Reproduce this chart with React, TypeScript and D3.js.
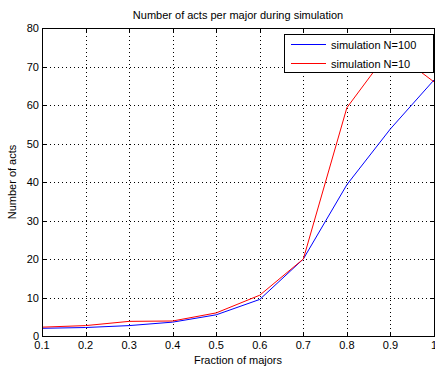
import React from "react";
import * as d3 from "d3";

const fractions = [0.1, 0.2, 0.3, 0.4, 0.5, 0.6, 0.7, 0.8, 0.9, 1.0];
const seriesN100 = [2.0, 2.2, 2.7, 3.6, 5.5, 9.5, 20.0, 39.3, 53.8, 66.5];
const seriesN10 = [2.3, 2.7, 3.8, 3.9, 6.0, 10.6, 20.0, 59.3, 74.5, 66.0];
const xTicks = [0.1, 0.2, 0.3, 0.4, 0.5, 0.6, 0.7, 0.8, 0.9, 1];
const yTicks = [0, 10, 20, 30, 40, 50, 60, 70, 80];
const xTickLabels = ["0.1", "0.2", "0.3", "0.4", "0.5", "0.6", "0.7", "0.8", "0.9", "1"];
const legendLabels = ["simulation N=100", "simulation N=10"];
const seriesColors = ["#0000ff", "#ff0000"];

const W = 435;
const H = 370;
const L = 42;
const R = 434;
const T = 28;
const B = 336;
const FONT = "'Liberation Sans', Arial, sans-serif";

export default function App() {
  const x = d3.scaleLinear().domain([0.1, 1]).range([L, R]);
  const y = d3.scaleLinear().domain([0, 80]).range([B, T]);
  const line = d3
    .line<number>()
    .x((_, i) => x(fractions[i]))
    .y((d) => y(d));
  const series = [seriesN100, seriesN10];
  const tickLen = 4;

  return (
    <svg
      width={W}
      height={H}
      style={{ position: "absolute", left: 0, top: 0, background: "#fff" }}
      fontFamily={FONT}
    >
      <rect x={0} y={0} width={W} height={H} fill="#fff" />
      <defs>
        <clipPath id="plotclip">
          <rect x={L} y={T} width={R - L} height={B - T} />
        </clipPath>
      </defs>
      {/* grid */}
      {xTicks.slice(1, -1).map((t) => (
        <line
          key={"gx" + t}
          x1={x(t) + 0.5}
          x2={x(t) + 0.5}
          y1={T}
          y2={B}
          stroke="#000"
          strokeWidth={1}
          strokeDasharray="1,3"
          shapeRendering="crispEdges"
        />
      ))}
      {yTicks.slice(1, -1).map((t) => (
        <line
          key={"gy" + t}
          x1={L}
          x2={R}
          y1={Math.round(y(t)) + 0.5}
          y2={Math.round(y(t)) + 0.5}
          stroke="#000"
          strokeWidth={1}
          strokeDasharray="1,3"
          shapeRendering="crispEdges"
        />
      ))}
      {/* series */}
      <g clipPath="url(#plotclip)">
        {series.map((s, i) => (
          <path
            key={"s" + i}
            d={line(s) || ""}
            fill="none"
            stroke={seriesColors[i]}
            strokeWidth={1}
          />
        ))}
      </g>
      {/* axes box */}
      <rect
        x={L + 0.5}
        y={T + 0.5}
        width={R - L}
        height={B - T}
        fill="none"
        stroke="#000"
        strokeWidth={1}
        shapeRendering="crispEdges"
      />
      {/* ticks */}
      {xTicks.map((t) => (
        <g key={"tx" + t} shapeRendering="crispEdges">
          <line x1={x(t) + 0.5} x2={x(t) + 0.5} y1={B} y2={B - tickLen} stroke="#000" />
          <line x1={x(t) + 0.5} x2={x(t) + 0.5} y1={T} y2={T + tickLen} stroke="#000" />
        </g>
      ))}
      {yTicks.map((t) => (
        <g key={"ty" + t} shapeRendering="crispEdges">
          <line x1={L} x2={L + tickLen} y1={Math.round(y(t)) + 0.5} y2={Math.round(y(t)) + 0.5} stroke="#000" />
          <line x1={R - tickLen} x2={R} y1={Math.round(y(t)) + 0.5} y2={Math.round(y(t)) + 0.5} stroke="#000" />
        </g>
      ))}
      {/* tick labels */}
      {xTicks.map((t, i) => (
        <text key={"lx" + t} x={x(t)} y={B + 13} fontSize={11} textAnchor="middle" fill="#000">
          {xTickLabels[i]}
        </text>
      ))}
      {yTicks.map((t) => (
        <text key={"ly" + t} x={L - 3} y={y(t) + 4} fontSize={11} textAnchor="end" fill="#000">
          {t}
        </text>
      ))}
      {/* title and labels */}
      <text x={(L + R) / 2} y={19} fontSize={11} textAnchor="middle" fill="#000">
        Number of acts per major during simulation
      </text>
      <text x={(L + R) / 2} y={364} fontSize={11} textAnchor="middle" fill="#000">
        Fraction of majors
      </text>
      <text
        transform={`translate(16, ${(T + B) / 2}) rotate(-90)`}
        fontSize={11}
        textAnchor="middle"
        fill="#000"
      >
        Number of acts
      </text>
      {/* legend */}
      <g>
        <rect x={284.5} y={34.5} width={149} height={38} fill="#fff" stroke="#000" shapeRendering="crispEdges" />
        {legendLabels.map((lab, i) => (
          <g key={"lg" + i}>
            <line
              x1={291}
              x2={326}
              y1={44.5 + i * 19}
              y2={44.5 + i * 19}
              stroke={seriesColors[i]}
              strokeWidth={1}
            />
            <text x={331} y={48.5 + i * 19} fontSize={11} fill="#000">
              {lab}
            </text>
          </g>
        ))}
      </g>
    </svg>
  );
}
